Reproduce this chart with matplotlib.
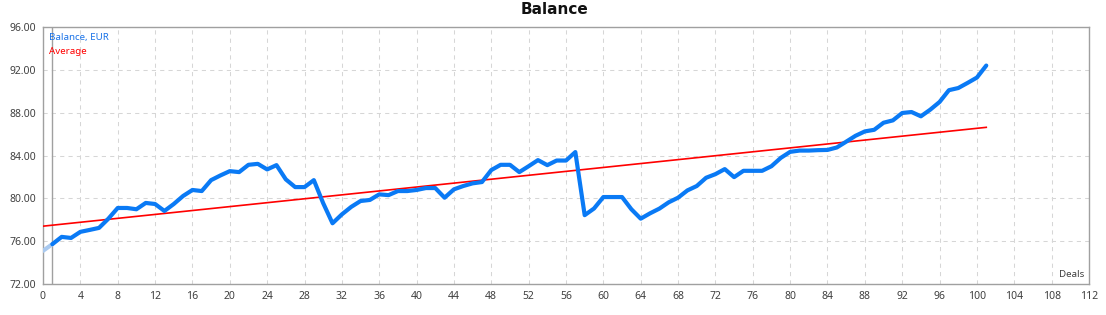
import matplotlib
matplotlib.use("Agg")
import matplotlib.pyplot as plt
import numpy as np

plt.rcParams["font.family"] = ["Noto Sans", "DejaVu Sans"]

deals = list(range(0, 102))
balance = [75.1, 75.72, 76.4, 76.3, 76.87, 77.05, 77.24, 78.1, 79.1, 79.1,
           78.98, 79.57, 79.47, 78.82, 79.47, 80.22, 80.78, 80.68, 81.7, 82.14,
           82.54, 82.45, 83.13, 83.22, 82.7, 83.1, 81.77, 81.05, 81.05, 81.7,
           79.55, 77.67, 78.5, 79.2, 79.75, 79.85, 80.37, 80.3, 80.68, 80.68,
           80.78, 80.96, 80.96, 80.06, 80.84, 81.15, 81.4, 81.52, 82.64, 83.13,
           83.13, 82.45, 83.0, 83.57, 83.1, 83.53, 83.53, 84.32, 78.43, 79.05,
           80.12, 80.12, 80.12, 78.98, 78.1, 78.6, 79.04, 79.63, 80.06, 80.74,
           81.15, 81.92, 82.26, 82.73, 81.98, 82.57, 82.57, 82.57, 83.0, 83.78,
           84.34, 84.46, 84.46, 84.5, 84.52, 84.75, 85.29, 85.84, 86.25, 86.4,
           87.06, 87.28, 87.97, 88.06, 87.66, 88.28, 89.0, 90.1, 90.3, 90.78,
           91.28, 92.4]
avg_x = [0, 101]
avg_y = [77.4, 86.63]
x_ticks = list(range(0, 113, 4))
y_ticks = [72, 76, 80, 84, 88, 92, 96]

W, H = 1106, 315
fig = plt.figure(figsize=(W / 100, H / 100), dpi=100)
ax = fig.add_axes([43 / W, (H - 284) / H, (1089 - 43) / W, (284 - 27) / H])

ax.set_xlim(0, 112)
ax.set_ylim(72, 96)
ax.set_xticks(x_ticks)
ax.set_yticks(y_ticks)
ax.set_yticklabels([f"{v:.2f}" for v in y_ticks])
ax.tick_params(length=0, labelsize=7.5, colors="#404040", pad=5)
ax.grid(True, color="#d6d6d6", linestyle=(0, (4, 4)), linewidth=0.75)
for s in ax.spines.values():
    s.set_color("#a0a0a0")
    s.set_linewidth(1)

ax.axvline(1, color="#a0a0a0", linewidth=1)

ax.plot(avg_x, avg_y, color="#ff0000", linewidth=1.2, zorder=3)
ax.plot(deals[:2], balance[:2], color="#a9c9ef", linewidth=3, zorder=4,
        solid_capstyle="round")
ax.plot(deals[1:], balance[1:], color="#0a7af5", linewidth=3, zorder=5,
        solid_joinstyle="round", solid_capstyle="round")

ax.text(0.006, 0.961, "Balance, EUR", transform=ax.transAxes, color="#1a73e8",
        fontsize=7, va="center", ha="left")
ax.text(0.006, 0.903, "Average", transform=ax.transAxes, color="#ff0000",
        fontsize=7, va="center", ha="left")
ax.text(0.996, 0.038, "Deals", transform=ax.transAxes, color="#404040",
        fontsize=7, va="center", ha="right")

fig.text(555 / W, 1 - 10 / H, "Balance", ha="center", va="center",
         fontsize=11, fontweight="bold", family="DejaVu Sans", color="#111111")

fig.savefig("out.png", dpi=100)
